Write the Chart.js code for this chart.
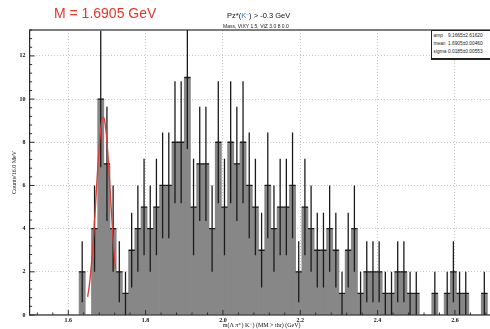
<!DOCTYPE html>
<html>
<head>
<meta charset="utf-8">
<title>Pz*(K-) > -0.3 GeV</title>
<script src="https://cdn.jsdelivr.net/npm/chart.js@4.4.1/dist/chart.umd.min.js"></script>
<style>
  html, body { margin: 0; padding: 0; background: #fff; overflow: hidden; }
  #page { position: relative; width: 490px; height: 329px; overflow: hidden; }
  #hist { position: absolute; left: 0; top: 0; }
  .mass { position: absolute; left: 54px; top: 5px; font: 14px "Liberation Sans", Arial, sans-serif; line-height: 16px; color: #e5352b; white-space: nowrap; }
  .htitle { position: absolute; left: 227px; top: 11px; font: 7.5px "Liberation Sans", Arial, sans-serif; line-height: 9px; color: #111; white-space: nowrap; }
  .htitle .kaon { color: #2b7bd6; }
  .htitle sup { font-size: 5px; vertical-align: 2px; line-height: 0; }
  .hsub { position: absolute; left: 223px; top: 23px; font: 5px "Liberation Sans", Arial, sans-serif; line-height: 6px; color: #222; white-space: nowrap; }
  .stats { position: absolute; left: 431px; top: 30px; width: 70px; height: 27px; border: 1px solid #222; border-bottom-width: 2px; background: #fff; font: 4.8px "Liberation Sans", Arial, sans-serif; color: #222; }
  .stats .row { position: absolute; left: 1.5px; white-space: nowrap; line-height: 6px; }
  .stats .val { position: absolute; left: 14.5px; }
</style>
</head>
<body>
<div id="page">
  <canvas id="hist" width="496" height="329"></canvas>
  <div class="mass">M = 1.6905 GeV</div>
  <div class="htitle">Pz*(<span class="kaon">K<sup>−</sup></span>) &gt; -0.3 GeV</div>
  <div class="hsub">Mass, VtXY 1.5, VtZ 3.0 8 0.0</div>
  <div class="stats">
    <div class="row" style="top:2px">amp<span class="val">9.1665±2.61620</span></div>
    <div class="row" style="top:10px">mean<span class="val">1.6905±0.00460</span></div>
    <div class="row" style="top:18px">sigma<span class="val">0.0185±0.00553</span></div>
  </div>
</div>
<script>
// ---- histogram binning ----
const histMin  = 1.5;
const histMax  = 2.7;
const binWidth = 0.016;

// entries per 16 MeV bin, from 1.500 GeV upwards
const counts = [
  0, 0, 0, 0, 0, 0, 0, 0, 2, 0,
  4, 10, 7, 4, 2, 1, 3, 4, 5, 4,
  5, 6, 6, 8, 8, 11, 5, 7, 7, 4,
  8, 5, 8, 7, 8, 6, 5, 3, 6, 4,
  5, 5, 6, 2, 5, 4, 3, 3, 4, 3,
  1, 3, 4, 1, 2, 2, 2, 1, 1, 2,
  2, 1, 1, 0, 0, 1, 0, 1, 2, 1,
  1, 0, 0, 1, 0
];

// gaussian fit (amp 9.1665, mean 1.6905, sigma 0.0185) sampled over the fit window
const fitX = [1.650, 1.654, 1.658, 1.662, 1.666, 1.670, 1.674, 1.678, 1.682, 1.686,
              1.6905, 1.694, 1.698, 1.702, 1.706, 1.710, 1.714, 1.718, 1.722];
const fitY = [0.835, 1.309, 1.959, 2.798, 3.814, 4.961, 6.159, 7.296, 8.248, 8.899,
              9.1665, 9.004, 8.443, 7.556, 6.453, 5.259, 4.091, 3.037, 2.151];

// axis ticks
const xTickValues = [1.6, 1.8, 2.0, 2.2, 2.4, 2.6];
const xTickLabels = ['1.6', '1.8', '2.0', '2.2', '2.4', '2.6'];
const yTickValues = [0, 2, 4, 6, 8, 10, 12];
const yTickLabels = ['0', '2', '4', '6', '8', '10', '12'];
const yMax = 13.2;

const binCenters = counts.map((_, i) => histMin + (i + 0.5) * binWidth);
const BAR_INDEX = 1;

// ---- error bars, frame and inward ticks (ROOT look) ----
const histFrame = {
    id: 'histFrame',
    afterDatasetDraw(chart, args) {
        if (args.index !== BAR_INDEX) return;
        const {ctx, chartArea, scales: {x, y}} = chart;
        ctx.save();
        ctx.beginPath();
        ctx.rect(chartArea.left, chartArea.top, chartArea.right - chartArea.left, chartArea.bottom - chartArea.top);
        ctx.clip();
        ctx.strokeStyle = '#1b1b1b';
        ctx.lineWidth = 1.3;
        counts.forEach((n, i) => {
            if (!n) return;
            const c   = binCenters[i];
            const err = Math.sqrt(n);
            const yn  = y.getPixelForValue(n);
            const xc  = x.getPixelForValue(c);
            ctx.beginPath();
            ctx.moveTo(x.getPixelForValue(c - binWidth / 2), yn);
            ctx.lineTo(x.getPixelForValue(c + binWidth / 2), yn);
            ctx.moveTo(xc, y.getPixelForValue(n - err));
            ctx.lineTo(xc, y.getPixelForValue(n + err));
            ctx.stroke();
        });
        ctx.restore();
    },
    afterDraw(chart) {
        const {ctx, chartArea: a, scales: {x, y}} = chart;
        ctx.save();
        ctx.strokeStyle = '#2a2a2a';
        ctx.lineWidth = 1.2;
        ctx.strokeRect(a.left, a.top, a.right - a.left, a.bottom - a.top);

        ctx.lineWidth = 1;
        ctx.beginPath();
        // y ticks every 0.4, long ones every 2
        for (let i = 0; i * 0.4 <= yMax + 1e-9; i++) {
            const v = i * 0.4;
            const major = Math.abs(v / 2 - Math.round(v / 2)) < 1e-6;
            const py = y.getPixelForValue(v);
            ctx.moveTo(a.left, py);
            ctx.lineTo(a.left + (major ? 5 : 2.5), py);
        }
        // x ticks every 0.04, long ones every 0.2
        for (let i = 0; histMin + 0.02 + i * 0.04 < histMax; i++) {
            const v = histMin + 0.02 + i * 0.04;
            const major = Math.abs(v * 5 - Math.round(v * 5)) < 1e-6;
            const px = x.getPixelForValue(v);
            ctx.moveTo(px, a.bottom);
            ctx.lineTo(px, a.bottom - (major ? 5 : 2.5));
        }
        ctx.stroke();
        ctx.restore();
    }
};

const tickFont  = { family: '"Liberation Serif", "DejaVu Serif", serif', size: 6, weight: 'bold' };
const titleFont = { family: '"Liberation Serif", "DejaVu Serif", serif', size: 6 };

new Chart(document.getElementById('hist').getContext('2d'), {
    type: 'bar',
    data: {
        datasets: [
            {
                type: 'line',
                label: 'fit',
                data: fitX.map((v, i) => ({ x: v, y: fitY[i] })),
                borderColor: '#d9403a',
                borderWidth: 1.4,
                pointRadius: 0,
                fill: false,
                cubicInterpolationMode: 'monotone',
                order: 0
            },
            {
                type: 'bar',
                label: 'entries',
                data: binCenters.map((c, i) => ({ x: c, y: counts[i] })),
                backgroundColor: '#878787',
                borderWidth: 0,
                barPercentage: 1,
                categoryPercentage: 1,
                order: 1
            }
        ]
    },
    options: {
        responsive: false,
        animation: false,
        layout: { padding: { top: 30, right: 2.4, left: 0, bottom: 0 } },
        plugins: {
            legend: { display: false },
            tooltip: { enabled: false }
        },
        scales: {
            x: {
                type: 'linear',
                min: histMin,
                max: histMax,
                offset: false,
                afterBuildTicks: s => { s.ticks = xTickValues.map(v => ({ value: v })); },
                afterFit: s => { s.height = 14; },
                ticks: {
                    autoSkip: false,
                    maxRotation: 0,
                    padding: 2,
                    font: tickFont,
                    color: '#111',
                    callback: (v, i) => xTickLabels[i]
                },
                grid: { color: '#c6c6c6', lineWidth: 1, drawTicks: false, offset: false },
                border: { display: false, dash: [1, 2] },
                title: {
                    display: true,
                    text: 'm(Λ π⁺) K⁻) (MM > thr) (GeV)',
                    font: titleFont,
                    color: '#111',
                    padding: { top: 0, bottom: 0 }
                }
            },
            y: {
                min: 0,
                max: yMax,
                afterBuildTicks: s => { s.ticks = yTickValues.map(v => ({ value: v })); },
                afterFit: s => { s.width = 29.6; },
                ticks: {
                    autoSkip: false,
                    padding: 4,
                    font: tickFont,
                    color: '#111',
                    callback: (v, i) => yTickLabels[i]
                },
                grid: {
                    color: c => (c.tick && c.tick.value === 0) ? 'transparent' : '#c6c6c6',
                    lineWidth: 1,
                    drawTicks: false
                },
                border: { display: false, dash: [1, 2] },
                title: {
                    display: true,
                    text: 'Counts/16.0 MeV',
                    font: titleFont,
                    color: '#111',
                    padding: { top: 11, bottom: 0 }
                }
            }
        }
    },
    plugins: [histFrame]
});
</script>
</body>
</html>
